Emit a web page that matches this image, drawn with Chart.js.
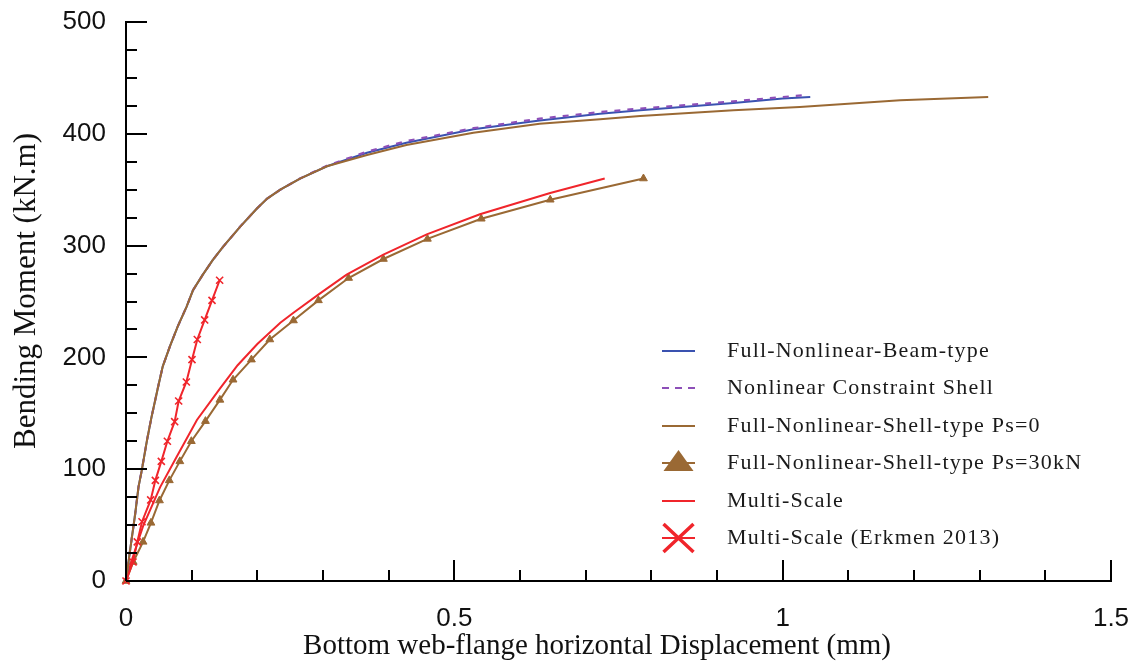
<!DOCTYPE html>
<html>
<head>
<meta charset="utf-8">
<script src="https://cdn.jsdelivr.net/npm/chart.js@4.4.1/dist/chart.umd.min.js"></script>
<style>
  html, body { margin: 0; padding: 0; background: #fff; }
  #wrap { width: 1142px; height: 666px; position: relative; }
</style>
</head>
<body>
<div id="wrap"><canvas id="c" width="1142" height="666"></canvas></div>
<script>
// ---- Data ----
const beamX = [0, 0.0056, 0.014, 0.019, 0.024, 0.032, 0.039, 0.049, 0.056, 0.067, 0.079, 0.092, 0.102, 0.117, 0.132, 0.148, 0.174, 0.199, 0.215, 0.235, 0.265, 0.306, 0.367, 0.427, 0.529, 0.630, 0.722, 0.783, 0.925, 1.0, 1.042];
const beamY = [0, 25, 60, 84, 99, 126, 147, 174, 192, 210, 228, 245, 260, 274, 287, 299, 317, 333, 342, 350, 360, 371, 383, 392, 404, 412, 418, 421, 427.5, 431.5, 433];

const constraintX = [0, 0.0056, 0.014, 0.019, 0.024, 0.032, 0.039, 0.049, 0.056, 0.067, 0.079, 0.092, 0.102, 0.117, 0.132, 0.148, 0.174, 0.199, 0.215, 0.235, 0.265, 0.306, 0.367, 0.427, 0.529, 0.630, 0.722, 0.783, 0.925, 1.031];
const constraintY = [0, 25, 60, 84, 99, 126, 147, 174, 192, 210, 228, 245, 260, 274, 287, 299, 317, 333, 342, 350, 360, 371.5, 384, 393.5, 405, 413.5, 419.5, 422.5, 429, 434.5];

const shell0X = [0, 0.0056, 0.014, 0.019, 0.024, 0.032, 0.039, 0.049, 0.056, 0.067, 0.079, 0.092, 0.102, 0.117, 0.132, 0.148, 0.174, 0.199, 0.215, 0.235, 0.265, 0.306, 0.367, 0.427, 0.529, 0.630, 0.722, 0.783, 0.925, 1.026, 1.179, 1.313];
const shell0Y = [0, 25, 60, 84, 99, 126, 147, 174, 192, 210, 228, 245, 260, 274, 287, 299, 317, 333, 342, 350, 360, 371, 381, 390, 401, 409, 413, 416, 421, 424, 430, 433];

const shell30X = [0, 0.011, 0.026, 0.038, 0.051, 0.066, 0.082, 0.0995, 0.121, 0.143, 0.163, 0.191, 0.219, 0.255, 0.293, 0.339, 0.392, 0.459, 0.541, 0.646, 0.788];
const shell30Y = [0, 17, 35, 52, 72, 90, 107, 125, 143, 162, 180, 198, 216, 233, 251, 271, 288, 306, 324, 341, 360];

const multiX = [0, 0.009, 0.026, 0.052, 0.077, 0.108, 0.143, 0.170, 0.200, 0.235, 0.255, 0.295, 0.336, 0.392, 0.458, 0.539, 0.646, 0.729];
const multiY = [0, 19, 49, 84, 111, 144, 172, 193, 212, 231, 240, 257, 274, 292, 310, 328, 347, 360];

const erkmenX = [0, 0.0107, 0.0172, 0.0244, 0.0376, 0.0447, 0.0538, 0.063, 0.0741, 0.0802, 0.0919, 0.1005, 0.1086, 0.1198, 0.131, 0.1426];
const erkmenY = [0, 17, 35, 53, 72.5, 90, 107, 125, 142.5, 161, 178, 198, 216, 233.5, 251, 269];

const seriesLabels = [
  'Full-Nonlinear-Beam-type',
  'Nonlinear Constraint Shell',
  'Full-Nonlinear-Shell-type Ps=0',
  'Full-Nonlinear-Shell-type Ps=30kN',
  'Multi-Scale',
  'Multi-Scale (Erkmen 2013)'
];

// Axis ticks
const xTickLabels = [0, 0.5, 1, 1.5];
const yTickLabels = [0, 100, 200, 300, 400, 500];
const xMinorTicks = [0.1, 0.2, 0.3, 0.4, 0.6, 0.7, 0.8, 0.9, 1.1, 1.2, 1.3, 1.4];
const yMinorTicks = [25, 50, 75, 125, 150, 175, 225, 250, 275, 325, 350, 375, 425, 450, 475];

const xTitle = 'Bottom web-flange horizontal Displacement (mm)';
const yTitle = 'Bending Moment (kN.m)';

// ---- Build ----
const pts = (xs, ys) => xs.map((x, i) => ({ x: x, y: ys[i] }));

const BLUE = '#3a52b0';
const PURPLE = '#8d4fb8';
const BROWN = '#9a6934';
const RED = '#f0252b';

const datasets = [
  { label: seriesLabels[0], data: pts(beamX, beamY), borderColor: BLUE, backgroundColor: BLUE, borderWidth: 2, pointRadius: 0, order: 3, legendKind: 'line' },
  { label: seriesLabels[1], data: pts(constraintX, constraintY), borderColor: PURPLE, backgroundColor: PURPLE, borderWidth: 2.2, borderDash: [6, 7], pointRadius: 0, order: 2, legendKind: 'dash' },
  { label: seriesLabels[2], data: pts(shell0X, shell0Y), borderColor: BROWN, backgroundColor: BROWN, borderWidth: 2, pointRadius: 0, order: 1, legendKind: 'line' },
  { label: seriesLabels[3], data: pts(shell30X, shell30Y), borderColor: BROWN, backgroundColor: BROWN, borderWidth: 2, pointStyle: 'triangle', pointRadius: 4.5, pointBorderWidth: 1, order: 5, legendKind: 'triangle' },
  { label: seriesLabels[4], data: pts(multiX, multiY), borderColor: RED, backgroundColor: RED, borderWidth: 2, pointRadius: 0, order: 4, legendKind: 'line' },
  { label: seriesLabels[5], data: pts(erkmenX, erkmenY), borderColor: RED, backgroundColor: RED, borderWidth: 2, pointStyle: 'crossRot', pointRadius: 5, pointBorderWidth: 1.6, order: 0, legendKind: 'x' }
];
datasets.forEach(d => { d.clip = false; d.tension = 0; d.fill = false; });

const LEFT = 126, RIGHT_PAD = 31, TOP = 22, XAXIS_H = 85;

const inwardTicks = {
  id: 'inwardTicks',
  afterDatasetsDraw(chart) {
    const { ctx, chartArea, scales } = chart;
    const x = scales.x, y = scales.y;
    ctx.save();
    ctx.strokeStyle = '#000';
    ctx.lineWidth = 2;
    ctx.beginPath();
    yTickLabels.forEach(v => { const p = Math.round(y.getPixelForValue(v)); ctx.moveTo(chartArea.left, p); ctx.lineTo(chartArea.left + 21, p); });
    yMinorTicks.forEach(v => { const p = Math.round(y.getPixelForValue(v)); ctx.moveTo(chartArea.left, p); ctx.lineTo(chartArea.left + 11, p); });
    xTickLabels.forEach(v => { const p = Math.round(x.getPixelForValue(v)); ctx.moveTo(p, chartArea.bottom); ctx.lineTo(p, chartArea.bottom - 21); });
    xMinorTicks.forEach(v => { const p = Math.round(x.getPixelForValue(v)); ctx.moveTo(p, chartArea.bottom); ctx.lineTo(p, chartArea.bottom - 11); });
    ctx.stroke();
    ctx.restore();
  }
};

const axisTitles = {
  id: 'axisTitles',
  afterDraw(chart) {
    const ctx = chart.ctx;
    ctx.save();
    ctx.fillStyle = '#111';
    ctx.textAlign = 'center';
    ctx.textBaseline = 'middle';
    ctx.font = '29px "Liberation Serif", "Times New Roman", serif';
    ctx.fillText(xTitle, 597, 646);
    ctx.translate(27, 291);
    ctx.rotate(-Math.PI / 2);
    ctx.font = '31px "Liberation Serif", "Times New Roman", serif';
    ctx.fillText(yTitle, 0, 0);
    ctx.restore();
  }
};

const customLegend = {
  id: 'customLegend',
  afterDraw(chart) {
    const ctx = chart.ctx;
    const x0 = 662, x1 = 695, tx = 727, y0 = 351, dy = 37.4;
    ctx.save();
    chart.data.datasets.forEach((d, i) => {
      const yy = Math.round(y0 + i * dy);
      ctx.strokeStyle = d.borderColor;
      ctx.fillStyle = d.borderColor;
      ctx.lineWidth = 2;
      ctx.setLineDash(d.legendKind === 'dash' ? [7, 6] : []);
      ctx.beginPath();
      ctx.moveTo(x0, yy); ctx.lineTo(x1, yy);
      ctx.stroke();
      ctx.setLineDash([]);
      const cx = (x0 + x1) / 2;
      if (d.legendKind === 'triangle') {
        ctx.beginPath();
        ctx.moveTo(cx, yy - 13);
        ctx.lineTo(cx + 15, yy + 8);
        ctx.lineTo(cx - 15, yy + 8);
        ctx.closePath();
        ctx.fill();
      } else if (d.legendKind === 'x') {
        ctx.lineWidth = 3.5;
        ctx.beginPath();
        ctx.moveTo(cx - 15, yy - 14); ctx.lineTo(cx + 15, yy + 14);
        ctx.moveTo(cx + 15, yy - 14); ctx.lineTo(cx - 15, yy + 14);
        ctx.stroke();
      }
      ctx.fillStyle = '#1a1a1a';
      ctx.font = '22px "Liberation Serif", "Times New Roman", serif';
      if ('letterSpacing' in ctx) ctx.letterSpacing = '1.2px';
      ctx.textBaseline = 'middle';
      ctx.textAlign = 'left';
      ctx.fillText(d.label, tx, yy);
      if ('letterSpacing' in ctx) ctx.letterSpacing = '0px';
    });
    ctx.restore();
  }
};

new Chart(document.getElementById('c'), {
  type: 'line',
  data: { datasets: datasets },
  options: {
    responsive: false,
    animation: false,
    devicePixelRatio: 1,
    layout: { padding: { left: 0, right: RIGHT_PAD, top: TOP, bottom: 0 } },
    plugins: { legend: { display: false }, tooltip: { enabled: false } },
    elements: { line: { borderCapStyle: 'butt' } },
    scales: {
      x: {
        type: 'linear',
        min: 0, max: 1.5,
        afterFit: s => { s.height = XAXIS_H; s.paddingLeft = 0; s.paddingRight = 0; },
        afterBuildTicks: s => { s.ticks = xTickLabels.map(v => ({ value: v })); },
        grid: { display: false, drawTicks: false },
        border: { display: true, color: '#000', width: 2 },
        ticks: {
          padding: 22,
          color: '#111',
          font: { family: '"Liberation Sans", Arial, sans-serif', size: 26 },
          maxRotation: 0,
          callback: v => String(v)
        },
        title: { display: false, text: xTitle }
      },
      y: {
        type: 'linear',
        min: 0, max: 500,
        afterFit: s => { s.width = LEFT; s.paddingTop = 0; s.paddingBottom = 0; },
        afterBuildTicks: s => { s.ticks = yTickLabels.map(v => ({ value: v })); },
        grid: { display: false, drawTicks: false },
        border: { display: true, color: '#000', width: 2 },
        ticks: {
          padding: 20,
          color: '#111',
          font: { family: '"Liberation Sans", Arial, sans-serif', size: 26 },
          callback: v => String(v)
        },
        title: { display: false, text: yTitle }
      }
    }
  },
  plugins: [inwardTicks, axisTitles, customLegend]
});
</script>
</body>
</html>
